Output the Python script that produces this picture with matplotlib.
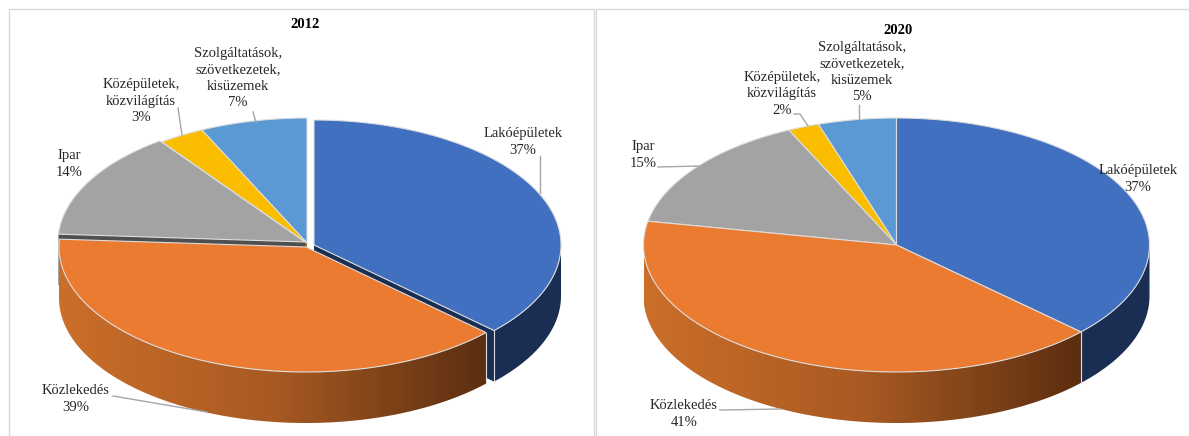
"""Two exploded 3D style pie charts, 2012 and 2020."""

import matplotlib

matplotlib.use("Agg")

import matplotlib.pyplot as plt
import numpy as np
from matplotlib.colors import LinearSegmentedColormap
from matplotlib.patches import Polygon, Rectangle

plt.rcParams["font.family"] = ["Liberation Serif", "DejaVu Serif"]

categories = ["Lakóépületek", "Közlekedés", "Ipar", "Középületek,\nközvilágítás", "Szolgáltatások,\nszövetkezetek,\nkisüzemek"]
values_2012 = [37, 39, 14, 3, 7]
values_2020 = [37, 41, 15, 2, 5]

top_colors = ["#4270C0", "#EA7B30", "#A3A3A3", "#FBBD00", "#5A99D4"]
wall_colors = ["#1A2D52", "#7A4016", "#4F4F4F", "#977000", "#2F5F8A"]
edge_color = "#DDDDDD"
leader_color = "#A6A6A6"
text_color = "#262626"

# pixel layout of each chart
layout_2012 = {
    "year": "2012",
    "centers": [(314, 245), (306, 247), (305, 242), (307, 243), (307, 243)],
    "rx": 247, "ry": 125, "depth": 51,
    "title": (305, 24),
    "labels": [(523, 142), (76, 399), (69, 164), (141, 101), (238, 78)],
    "leaders": [
        [(540, 156), (540, 193)],
        [(113, 396), (207, 412)],
        [(178, 108), (182, 135)],
        [(253, 112), (256, 122)],
    ],
}
layout_2020 = {
    "year": "2020",
    "centers": [(896.5, 245)] * 5,
    "rx": 253, "ry": 127, "depth": 51,
    "title": (898, 30),
    "labels": [(1138, 179), (684, 414), (643, 155), (782, 94), (862, 72)],
    "leaders": [
        [(720, 410), (781, 409)],
        [(658, 167), (699, 166)],
        [(794, 114), (800, 114), (808, 126)],
        [(859, 105), (859, 119)],
    ],
}

orange_shade = LinearSegmentedColormap.from_list("orange_shade", ["#CB6E2A", "#A85A22", "#5B2E10"])


def rim(center, rx, ry, start, end):
    theta = np.radians(np.linspace(start, end, max(int(end - start) * 2, 2)))
    return np.column_stack([center[0] + rx * np.sin(theta), center[1] - ry * np.cos(theta)])


def draw_pie(ax, values, cfg):
    rx, ry, depth = cfg["rx"], cfg["ry"], cfg["depth"]
    stops = np.concatenate([[0], np.cumsum(values)]) / sum(values) * 360
    # back slices first, so the front walls and tops cover them
    for order, i in enumerate([4, 3, 2, 0, 1]):
        center = cfg["centers"][i]
        start, end = stops[i], stops[i + 1]
        base = 2 + order * 3
        below = (center[0], center[1] + depth)

        # only the cut faces turned towards the viewer
        shown = []
        if 180 < start < 360:
            shown.append(start)
        if 0 < end < 180:
            shown.append(end)
        for angle in shown:
            edge = rim(center, rx, ry, angle, angle)[0]
            face = [center, edge, edge + (0, depth), below]
            ax.add_patch(Polygon(face, facecolor=wall_colors[i], edgecolor="none", zorder=base))

        lo, hi = max(start, 90), min(end, 270)
        if lo < hi:
            arc = rim(center, rx, ry, lo, hi)
            wall = np.vstack([arc, arc[::-1] + (0, depth)])
            if i == 1:
                patch = Polygon(wall, facecolor="none", edgecolor="none", zorder=base + 1)
                ax.add_patch(patch)
                ramp = np.linspace(0, 1, 256).reshape(1, -1)
                img = ax.imshow(
                    ramp, cmap=orange_shade, aspect="auto", zorder=base + 1,
                    extent=(wall[:, 0].min(), wall[:, 0].max(), wall[:, 1].max(), wall[:, 1].min()),
                )
                img.set_clip_path(patch)
            else:
                ax.add_patch(Polygon(wall, facecolor=wall_colors[i], edgecolor="none", zorder=base + 1))
            side = arc[0] if i == 1 else arc[-1]
            if i in (0, 1):
                ax.plot([side[0], side[0]], [side[1], side[1] + depth], color=edge_color, linewidth=0.8, zorder=base + 1.5)

    for i in [4, 3, 2, 0, 1]:
        center = cfg["centers"][i]
        outline = np.vstack([center, rim(center, rx, ry, stops[i], stops[i + 1])])
        ax.add_patch(Polygon(outline, facecolor=top_colors[i], edgecolor=edge_color, linewidth=0.8, zorder=20))

    ax.text(*cfg["title"], cfg["year"], ha="center", va="center", fontsize=10.5, fontweight="bold", color="black", zorder=30)
    for name, value, pos in zip(categories, values, cfg["labels"]):
        ax.text(*pos, f"{name}\n{value}%", ha="center", va="center", fontsize=10.5, linespacing=1.33, color=text_color, zorder=30)
    for line in cfg["leaders"]:
        xs, ys = zip(*line)
        ax.plot(xs, ys, color=leader_color, linewidth=1.0, zorder=25)


fig = plt.figure(figsize=(11.89, 4.36), dpi=100)
ax = fig.add_axes([0, 0, 1, 1])

ax.add_patch(Rectangle((8.5, 9), 585, 440, facecolor="white", edgecolor="#D9D9D9", linewidth=1.0))
ax.add_patch(Rectangle((595.5, 9), 600, 440, facecolor="white", edgecolor="#D9D9D9", linewidth=1.0))

draw_pie(ax, values_2012, layout_2012)
draw_pie(ax, values_2020, layout_2020)

ax.set_xlim(0, 1189)
ax.set_ylim(436, 0)
ax.axis("off")

fig.savefig("out.png", dpi=100)
plt.close(fig)
